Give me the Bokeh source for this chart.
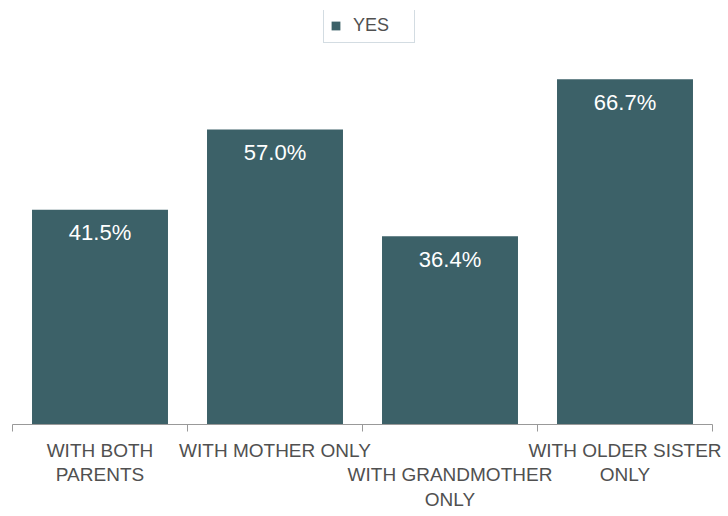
from bokeh.plotting import figure
from bokeh.models import Range1d, FixedTicker, LinearAxis, ColumnDataSource
from bokeh.core.properties import value
from bokeh.embed import file_html
from bokeh.resources import INLINE

categories = ["WITH BOTH PARENTS", "WITH MOTHER ONLY", "WITH GRANDMOTHER ONLY", "WITH OLDER SISTER ONLY"]
tick_labels = ["WITH BOTH\nPARENTS", "WITH MOTHER ONLY", "\nWITH GRANDMOTHER\nONLY", "WITH OLDER SISTER\nONLY"]
yes_values = [41.5, 57.0, 36.4, 66.7]
series_name = "YES"

FONT = "Liberation Sans"
BAR = "#3c6168"
TXT = "#505050"

n = len(categories)
xs = list(range(n))
src = ColumnDataSource(dict(x=xs, y=yes_values, label=[f"{v:.1f}%" for v in yes_values]))

p = figure(frame_width=700, frame_height=414, output_backend="svg", toolbar_location=None,
           x_range=Range1d(-0.5, n - 0.5), y_range=Range1d(0, 80),
           y_axis_location=None,
           min_border_left=12, min_border_right=14, min_border_top=10, min_border_bottom=0)
p.outline_line_color = None
p.grid.visible = False
p.background_fill_color = "white"
p.border_fill_color = "white"

r = p.vbar(x="x", top="y", width=0.777, source=src, fill_color=BAR, line_color=None,
           legend_label=series_name)
p.text(x="x", y="y", text="label", source=src, text_align="center", text_baseline="middle",
       y_offset=23, text_color="white", text_font_size="22px", text_font=value(FONT))

# boundary ticks axis
ax1 = p.xaxis[0]
ax1.ticker = FixedTicker(ticks=[i - 0.5 for i in range(n + 1)])
ax1.major_label_overrides = {i - 0.5: "" for i in range(n + 1)}
ax1.major_label_standoff = 0
ax1.major_tick_in = 0
ax1.major_tick_out = 7
ax1.minor_tick_line_color = None
ax1.axis_line_color = "#999999"
ax1.major_tick_line_color = "#999999"
ax1.major_label_text_font_size = "1px"

ax = LinearAxis(ticker=FixedTicker(ticks=xs),
                major_label_overrides={i: tick_labels[i] for i in xs})
ax.axis_line_color = None
ax.major_tick_line_color = None
ax.minor_tick_line_color = None
ax.major_tick_in = 0
ax.major_tick_out = 0
ax.major_label_standoff = 8
ax.major_label_text_font = FONT
ax.major_label_text_font_size = "19px"
ax.major_label_text_color = TXT
ax.major_label_text_line_height = 1.19
p.add_layout(ax, "below")

lg = p.legend[0]
lg.location = (311, 381)
lg.margin = 0
lg.padding = 6
lg.glyph_width = 11
lg.glyph_height = 11
lg.label_standoff = 12
lg.label_width = 55
lg.label_height = 21
lg.label_text_font = FONT
lg.label_text_font_size = "18px"
lg.label_text_color = TXT
lg.border_line_color = "#a7b9c6"
lg.border_line_width = 1.5
lg.background_fill_alpha = 1

open("out.html", "w").write(file_html(p, INLINE))
